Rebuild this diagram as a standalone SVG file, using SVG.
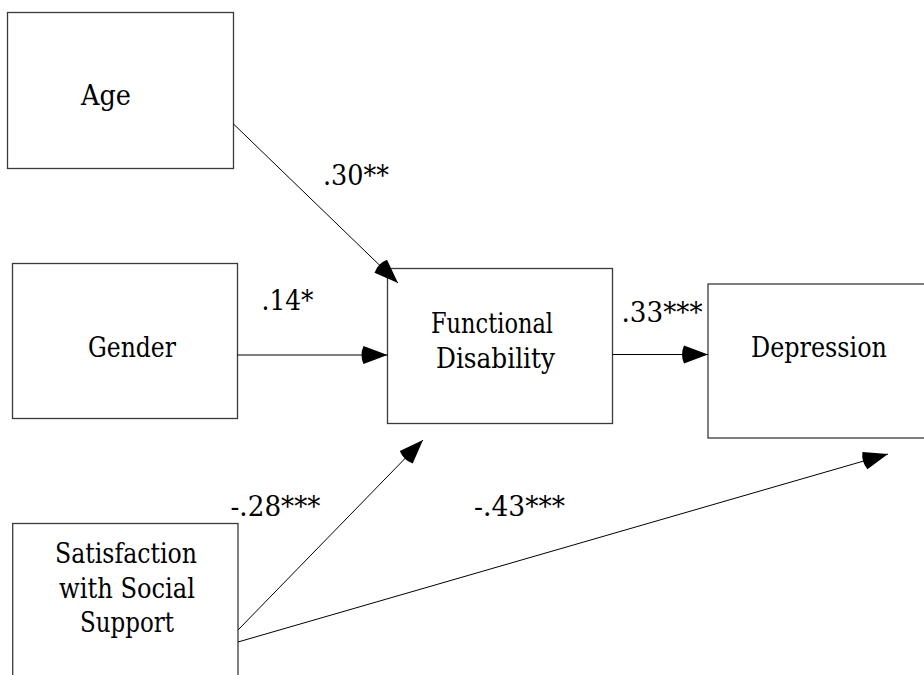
<svg xmlns="http://www.w3.org/2000/svg" width="924" height="675" viewBox="0 0 924 675">
<style>
.box{fill:#fff;stroke:#3a3a3a;stroke-width:1.3}
.t{font-size:27.5px;fill:#000}
.c{stroke:#000;stroke-width:1;fill:none;marker-end:url(#ah)}
</style>
<defs>
<marker id="ah" viewBox="-27 -10 28 20" refX="0" refY="0" markerWidth="28" markerHeight="20" markerUnits="userSpaceOnUse" orient="auto">
<path d="M0,0 L-24,-9 Q-28,0 -24,9 Z" fill="#000"/>
</marker>
</defs>
<rect width="924" height="675" fill="#fff"/>
<g font-family="'DejaVu Serif', serif">
<g id="age"><rect class="box" x="7.5" y="12.5" width="226" height="156"/><text class="t" x="81" y="105" textLength="50" lengthAdjust="spacingAndGlyphs">Age</text></g>
<g id="gender"><rect class="box" x="12.5" y="263.5" width="225" height="155"/><text class="t" x="88" y="356.5" textLength="88" lengthAdjust="spacingAndGlyphs">Gender</text></g>
<g id="functional"><rect class="box" x="387.5" y="268.5" width="225" height="155"/><text class="t" x="431" y="333" textLength="122" lengthAdjust="spacingAndGlyphs">Functional</text><text class="t" x="436" y="368" textLength="119" lengthAdjust="spacingAndGlyphs">Disability</text></g>
<g id="depression"><rect class="box" x="708" y="284" width="230" height="154"/><text class="t" x="751" y="356.5" textLength="136" lengthAdjust="spacingAndGlyphs">Depression</text></g>
<g id="satisfaction"><rect class="box" x="12.7" y="523.5" width="225.3" height="170"/><text class="t" x="55" y="562.5" textLength="142" lengthAdjust="spacingAndGlyphs">Satisfaction</text><text class="t" x="59" y="598" textLength="136" lengthAdjust="spacingAndGlyphs">with Social</text><text class="t" x="80" y="631.5" textLength="94" lengthAdjust="spacingAndGlyphs">Support</text></g>
<g id="connectors">
<line class="c" x1="233.5" y1="124" x2="398" y2="283"/>
<line class="c" x1="237.5" y1="355" x2="387.5" y2="355"/>
<line class="c" x1="612.5" y1="354.5" x2="708" y2="354.5"/>
<line class="c" x1="238" y1="630" x2="423" y2="440"/>
<line class="c" x1="238" y1="642" x2="888" y2="454"/>
</g>
<g id="labels">
<text class="t" x="323" y="185" textLength="66" lengthAdjust="spacingAndGlyphs">.30**</text>
<text class="t" x="261.5" y="310" textLength="52" lengthAdjust="spacingAndGlyphs">.14*</text>
<text class="t" x="621.5" y="321.5" textLength="81" lengthAdjust="spacingAndGlyphs">.33***</text>
<text class="t" x="230.5" y="516" textLength="90" lengthAdjust="spacingAndGlyphs">-.28***</text>
<text class="t" x="474" y="516" textLength="91" lengthAdjust="spacingAndGlyphs">-.43***</text>
</g>
</g>
</svg>
